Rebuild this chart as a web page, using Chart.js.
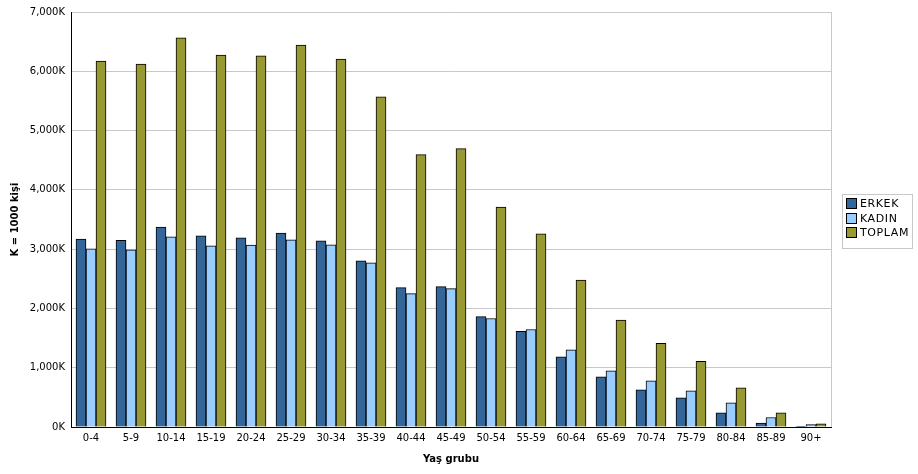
<!DOCTYPE html>
<html lang="tr">
<head>
<meta charset="UTF-8">
<title>Yaş grubu</title>
<script src="https://cdn.jsdelivr.net/npm/chart.js"></script>
<style>
    body { margin: 0; background: #fff; font-family: "DejaVu Sans", sans-serif; }
    #wrap { position: relative; width: 918px; height: 474px; }
    #legend {
        position: absolute; left: 842px; top: 194px; width: 69px; height: 53px;
        border: 1px solid #c8c8c8; font-size: 11px; color: #000; letter-spacing: 0.6px;
    }
    .item { position: absolute; left: 3px; height: 14px; line-height: 12px; white-space: nowrap; }
    .sw { display: inline-block; width: 11px; height: 11px; border: 1px solid #000; vertical-align: -2px; margin-right: 3px; box-sizing: border-box; }
</style>
</head>
<body>
<div id="wrap">
    <canvas id="c" width="918" height="474"></canvas>
    <div id="legend"></div>
</div>
<script>
const ageGroups = ["0-4","5-9","10-14","15-19","20-24","25-29","30-34","35-39","40-44","45-49","50-54","55-59","60-64","65-69","70-74","75-79","80-84","85-89","90+"];
const erkek  = [3170,3147,3374,3223,3190,3273,3139,2803,2350,2367,1863,1612,1185,845,626,493,240,68,10];
const kadin  = [3005,2988,3206,3055,3070,3156,3072,2770,2250,2333,1830,1645,1303,946,777,610,408,160,40];
const toplam = [6172,6122,6564,6273,6261,6441,6206,5568,4594,4695,3710,3257,2480,1803,1411,1108,660,240,55];
const yTicks = [0,1000,2000,3000,4000,5000,6000,7000];

const seriesNames = ["ERKEK","KADIN","TOPLAM"];
const seriesColors = ["#336699","#99ccff","#999933"];

const datasets = [erkek, kadin, toplam].map((d, i) => ({
    label: seriesNames[i],
    data: d,
    backgroundColor: seriesColors[i],
    borderColor: "#000",
    borderWidth: 1,
    borderSkipped: "bottom",
    barThickness: 10
}));

// legend box on the right
const legend = document.getElementById("legend");
seriesNames.forEach((n, i) => {
    const el = document.createElement("div");
    el.className = "item";
    el.style.top = (3 + i * 14.7) + "px";
    el.innerHTML = '<span class="sw" style="background:' + seriesColors[i] + '"></span>' + n;
    legend.appendChild(el);
});

// light border on the right side of the plot
const rightBorder = {
    id: "rightBorder",
    afterDraw(chart) {
        const a = chart.chartArea, ctx = chart.ctx;
        ctx.save();
        ctx.strokeStyle = "#c8c8c8";
        ctx.lineWidth = 1;
        ctx.beginPath();
        ctx.moveTo(Math.round(a.right) + 0.5, a.top);
        ctx.lineTo(Math.round(a.right) + 0.5, a.bottom);
        ctx.stroke();
        ctx.restore();
    }
};

Chart.defaults.font.family = "'DejaVu Sans', sans-serif";
Chart.defaults.font.size = 10;
Chart.defaults.color = "#000";

new Chart(document.getElementById("c"), {
    type: "bar",
    data: { labels: ageGroups, datasets: datasets },
    options: {
        responsive: false,
        animation: false,
        layout: { padding: { top: 9, right: 87, left: 0, bottom: 0 } },
        plugins: { legend: { display: false }, tooltip: { enabled: false } },
        scales: {
            x: {
                grid: { display: false, drawTicks: false },
                border: { color: "#000", width: 1 },
                ticks: { padding: 5, maxRotation: 0, autoSkip: false },
                title: { display: true, text: "Yaş grubu", font: { size: 10, weight: "bold" }, padding: { top: 0, bottom: 9 } },
                afterFit(s) { s.height = 47; }
            },
            y: {
                min: 0, max: 7000,
                afterBuildTicks(s) { s.ticks = yTicks.map(v => ({ value: v })); },
                grid: { color: "#c8c8c8", drawTicks: false },
                border: { color: "#000", width: 1 },
                ticks: {
                    padding: 6,
                    callback: v => v.toLocaleString("en-US") + "K"
                },
                title: { display: true, text: "K = 1000 kişi", font: { size: 10, weight: "bold" }, padding: { top: 9, bottom: 0 } },
                afterFit(s) { s.width = 71; }
            }
        }
    },
    plugins: [rightBorder]
});
</script>
</body>
</html>
